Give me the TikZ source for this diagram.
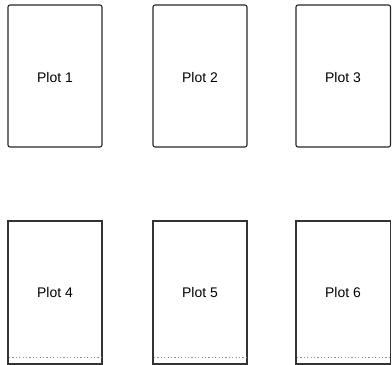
\documentclass[tikz,border=0pt]{standalone}
\usepackage{fontspec}
\setmainfont{Liberation Sans}
\begin{document}
\begin{tikzpicture}[x=1bp,y=-1bp,
  plotbox/.style={draw=black!85,line width=1.1bp,rounded corners=2bp},
  plotboxsq/.style={draw=black!80,line width=1.2bp},
  plotlabel/.style={font=\fontsize{14}{16}\selectfont,inner sep=0pt},
  scanline/.style={draw=black!45,line width=0.6bp,dash pattern=on 1.2bp off 2.2bp}]
\useasboundingbox (0,0) rectangle (392,365);
% top row
\draw[plotbox] (8,5) rectangle (102,147);
\draw[plotbox] (153,5) rectangle (247,147);
\draw[plotbox] (296,5) rectangle (390.5,147);
\node[plotlabel] (p1) at (55,78) {Plot 1};
\node[plotlabel] (p2) at (200,78) {Plot 2};
\node[plotlabel] (p3) at (343,78) {Plot 3};
% bottom row
\draw[plotboxsq] (8,221) rectangle (102,364);
\draw[plotboxsq] (153,221) rectangle (247,364);
\draw[plotboxsq] (296,221) rectangle (390.5,364);
\node[plotlabel] (p4) at (55,293) {Plot 4};
\node[plotlabel] (p5) at (200,293) {Plot 5};
\node[plotlabel] (p6) at (343,293) {Plot 6};
% faint dotted traces near the lower edges
\draw[scanline] (9,357) -- (101,357);
\draw[scanline] (154,357) -- (246,357);
\draw[scanline] (297,357) -- (389,357);
\end{tikzpicture}
\end{document}
